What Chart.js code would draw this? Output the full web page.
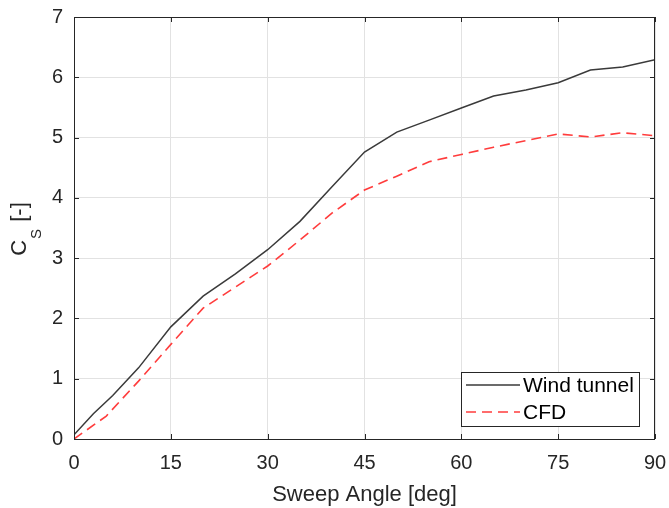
<!DOCTYPE html>
<html>
<head>
<meta charset="utf-8">
<script src="https://cdn.jsdelivr.net/npm/chart.js@4.4.1/dist/chart.umd.min.js"></script>
<style>
  body { margin: 0; background: #fff; }
  #wrap { width: 669px; height: 508px; }
</style>
</head>
<body>
<div id="wrap"><canvas id="cs" width="669" height="508"></canvas></div>
<script>
// sweep angle (deg) and side force coefficient
const windAngle = [0, 3, 6, 10, 15, 20, 25, 30, 35, 40, 45, 50, 55, 60, 65, 70, 75, 80, 85, 90];
const windCs    = [0.07, 0.42, 0.72, 1.18, 1.86, 2.37, 2.74, 3.14, 3.61, 4.19, 4.76, 5.09, 5.29, 5.49, 5.69, 5.79, 5.91, 6.12, 6.17, 6.29];
const cfdAngle  = [0, 5, 10, 15, 20, 25, 30, 35, 40, 45, 50, 55, 60, 65, 70, 75, 80, 85, 90];
const cfdCs     = [0.0, 0.38, 0.96, 1.57, 2.17, 2.52, 2.87, 3.30, 3.75, 4.13, 4.36, 4.60, 4.72, 4.84, 4.95, 5.06, 5.01, 5.08, 5.03];
const xTicks = [0, 15, 30, 45, 60, 75, 90];
const yTicks = [0, 1, 2, 3, 4, 5, 6, 7];

const FONT = '"Liberation Sans", Arial, Helvetica, sans-serif';
const INK = '#262626';

const toPts = (xs, ys) => xs.map((x, i) => ({ x: x, y: ys[i] }));

// matlab style box with inward ticks on all sides
const frame = {
  id: 'frame',
  afterDraw(chart) {
    const { ctx, chartArea: a, scales } = chart;
    ctx.save();
    ctx.strokeStyle = INK;
    ctx.lineWidth = 1;
    ctx.strokeRect(a.left + 0.5, a.top + 0.5, a.right - a.left - 1, a.bottom - a.top);
    const tl = 5;
    ctx.beginPath();
    xTicks.forEach(v => {
      const px = Math.round(scales.x.getPixelForValue(v)) + 0.5;
      ctx.moveTo(px, a.bottom); ctx.lineTo(px, a.bottom - tl);
      ctx.moveTo(px, a.top); ctx.lineTo(px, a.top + tl);
    });
    yTicks.forEach(v => {
      const py = Math.round(scales.y.getPixelForValue(v)) + 0.5;
      ctx.moveTo(a.left, py); ctx.lineTo(a.left + tl, py);
      ctx.moveTo(a.right, py); ctx.lineTo(a.right - tl, py);
    });
    ctx.stroke();

    // legend box, bottom right inside the axes
    const lx = 461.5, ly = 372.5, lw = 178, lh = 54;
    ctx.fillStyle = '#fff';
    ctx.fillRect(lx, ly, lw, lh);
    ctx.strokeRect(lx, ly, lw, lh);
    chart.data.datasets.forEach((ds, i) => {
      const y = 385 + i * 27;
      ctx.save();
      ctx.strokeStyle = ds.borderColor;
      ctx.lineWidth = ds.borderWidth;
      ctx.setLineDash(ds.borderDash || []);
      ctx.beginPath();
      ctx.moveTo(466, y); ctx.lineTo(520, y);
      ctx.stroke();
      ctx.restore();
      ctx.fillStyle = '#000';
      ctx.font = '21px ' + FONT;
      ctx.textBaseline = 'middle';
      ctx.textAlign = 'left';
      ctx.fillText(ds.label, 523, y + 1);
    });

    // y axis label C_S [-] with subscript
    ctx.translate(26, 229);
    ctx.rotate(-Math.PI / 2);
    ctx.fillStyle = INK;
    ctx.textBaseline = 'alphabetic';
    ctx.textAlign = 'left';
    const big = '22px ' + FONT, small = '15px ' + FONT;
    ctx.font = big;
    const wC = ctx.measureText('C').width;
    const wT = ctx.measureText(' [-]').width;
    ctx.font = small;
    const wS = ctx.measureText('S').width;
    let x0 = -(wC + wS + wT + 2) / 2;
    ctx.font = big;
    ctx.fillText('C', x0, 0);
    ctx.font = small;
    ctx.fillText('S', x0 + wC + 1, 15);
    ctx.font = big;
    ctx.fillText(' [-]', x0 + wC + wS + 2, 0);
    ctx.restore();
  }
};

new Chart(document.getElementById('cs'), {
  type: 'line',
  data: {
    datasets: [{
      label: 'Wind tunnel',
      data: toPts(windAngle, windCs),
      borderColor: '#3a3a3a',
      borderWidth: 1.5,
      pointRadius: 0,
      tension: 0
    }, {
      label: 'CFD',
      data: toPts(cfdAngle, cfdCs),
      borderColor: '#ff3c3c',
      borderWidth: 1.6,
      borderDash: [10, 6],
      pointRadius: 0,
      tension: 0
    }]
  },
  options: {
    responsive: false,
    animation: false,
    devicePixelRatio: 1,
    layout: { padding: { top: 17, right: 14, left: 0, bottom: 0 } },
    plugins: { legend: { display: false }, tooltip: { enabled: false } },
    scales: {
      x: {
        type: 'linear',
        min: 0, max: 90,
        afterBuildTicks: s => { s.ticks = xTicks.map(v => ({ value: v })); },
        afterFit: s => { s.height = 69; s.paddingLeft = 0; s.paddingRight = 0; },
        grid: { color: '#e2e2e2', drawTicks: false },
        border: { display: false },
        ticks: { color: INK, font: { family: FONT, size: 20 }, padding: 12, maxRotation: 0 },
        title: {
          display: true,
          text: 'Sweep Angle [deg]',
          color: INK,
          font: { family: FONT, size: 22 },
          padding: { top: 0, bottom: 0 }
        }
      },
      y: {
        min: 0, max: 7,
        afterBuildTicks: s => { s.ticks = yTicks.map(v => ({ value: v })); },
        afterFit: s => { s.width = 74; s.paddingTop = 0; s.paddingBottom = 0; },
        grid: { color: '#e2e2e2', drawTicks: false },
        border: { display: false },
        ticks: { color: INK, font: { family: FONT, size: 20 }, padding: 11 }
      }
    }
  },
  plugins: [frame]
});
</script>
</body>
</html>
